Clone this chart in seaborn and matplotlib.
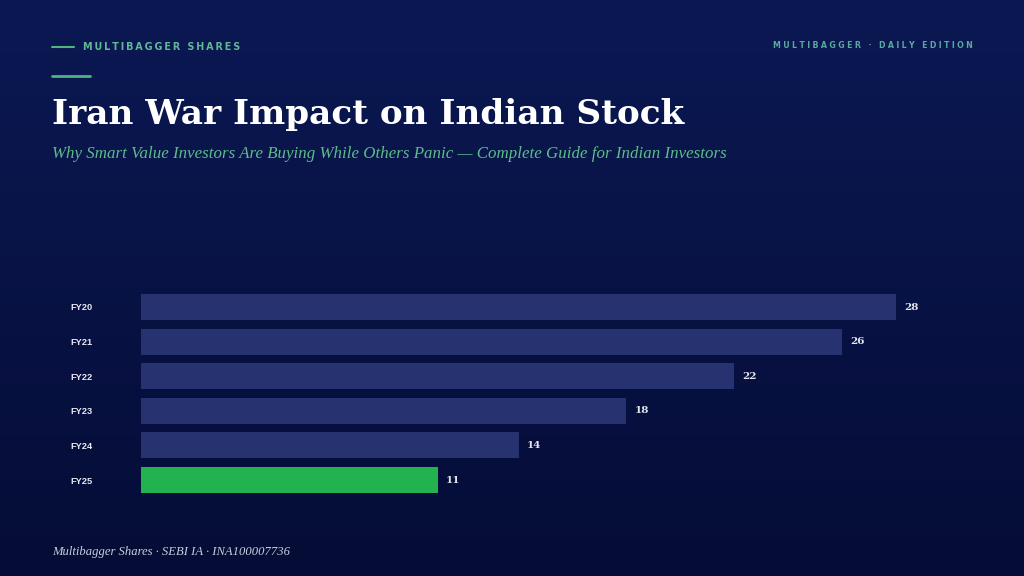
import numpy as np
import pandas as pd
import seaborn as sns
import matplotlib.pyplot as plt
from matplotlib.colors import LinearSegmentedColormap

# data
years = ["FY20", "FY21", "FY22", "FY23", "FY24", "FY25"]
values = [28, 26, 22, 18, 14, 11]
highlight = "FY25"

title = "Iran War Impact on Indian Stock"
subtitle = "Why Smart Value Investors Are Buying While Others Panic \u2014 Complete Guide for Indian Investors"
brand = "MULTIBAGGER SHARES"
edition = "MULTIBAGGER \u00b7 DAILY EDITION"
footer = "Multibagger Shares \u00b7 SEBI IA \u00b7 INA100007736"

df = pd.DataFrame({"year": years, "value": values})

BAR = "#273270"
GREEN = "#22b24f"
ACCENT = "#4fb57f"

sns.set_style("white")
plt.rcParams["font.family"] = ["DejaVu Sans"]

fig = plt.figure(figsize=(10.24, 5.76), dpi=100)

# background gradient
bg = fig.add_axes([0, 0, 1, 1], zorder=0)
cmap = LinearSegmentedColormap.from_list("bg", ["#0b1853", "#050d36"])
bg.imshow(np.linspace(0, 1, 256).reshape(-1, 1), aspect="auto", cmap=cmap,
          extent=[0, 1, 0, 1])
bg.set_axis_off()


def spaced(s, sep="\u2009"):
    return sep.join(s)


# header
fig.add_artist(plt.Line2D([52/1024, 74/1024], [1-47/576, 1-47/576], color=ACCENT, lw=1.5))
fig.add_artist(plt.Line2D([52/1024, 90/1024], [1-76/576, 1-76/576], color=ACCENT, lw=2))
fig.text(83/1024, 1-47/576, spaced(brand), color="#62b795", fontsize=6.9,
         fontweight="bold", va="center", ha="left")
fig.text(973/1024, 1-46/576, spaced(edition, "\u2009\u200a"), color="#5aa8a0",
         fontsize=5.7, fontweight="bold", va="center", ha="right")

fig.text(52/1024, 1-124/576, title, color="white", fontsize=24.7,
         fontweight="bold", family="DejaVu Serif", va="baseline", ha="left")
fig.text(52/1024, 1-158/576, subtitle, color="#5cbd8a", fontsize=12.2,
         style="italic", family="Liberation Serif", va="baseline", ha="left")
fig.text(52/1024, 1-555/576, footer, color="#c9cde0", fontsize=9.1,
         style="italic", family="Liberation Serif", va="baseline", ha="left")

# bars
ax = fig.add_axes([141/1024, 1-497.3/576, (950-141)/1024, (497.3-289.7)/576], zorder=1)
ax.patch.set_alpha(0)
palette = {y: (GREEN if y == highlight else BAR) for y in years}
sns.barplot(data=df, x="value", y="year", hue="year", palette=palette,
            order=years, width=0.75, saturation=1, legend=False, linewidth=0, ax=ax)
ax.set_xlim(0, 30)
ax.set_ylim(5.5, -0.5)
for i, v in enumerate(values):
    ax.text(v + 0.3, i, str(v), color="#e6e7f0", fontsize=7.5, fontweight="bold",
            family="DejaVu Serif", va="center", ha="left")

ax.set_xlabel("")
ax.set_ylabel("")
ax.set_xticks([])
ax.tick_params(axis="y", length=0, pad=51)
for lab in ax.get_yticklabels():
    lab.set_ha("left")
    lab.set_color("#e8e9f2")
    lab.set_fontsize(6.7)
    lab.set_fontweight("bold")
    lab.set_family("Liberation Sans")
sns.despine(ax=ax, left=True, bottom=True)

fig.savefig("out.png", dpi=100)
